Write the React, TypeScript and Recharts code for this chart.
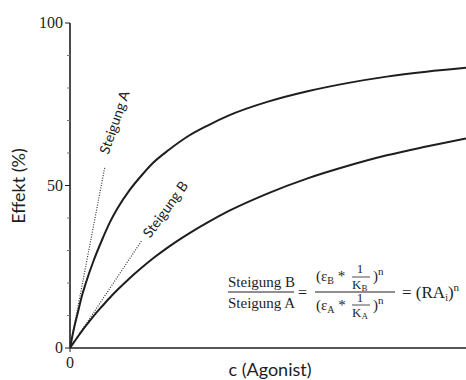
import React from 'react';
import { ComposedChart, Line, XAxis, YAxis, Customized } from 'recharts';

// concentration of agonist (arbitrary units) and effect in %
const concentrations = [0, 1, 2, 3, 4, 6, 8, 10, 12, 15, 18, 21, 25, 30, 35, 40, 50, 60, 70, 80, 90, 100];
const effectA = [0, 6, 11, 16, 20, 27, 33, 38.5, 43, 48.5, 53, 57, 61, 65.3, 68.6, 71.5, 75.8, 79, 81.5, 83.5, 85, 86.2];
const effectB = [0, 1.8, 3.5, 5.2, 6.8, 9.9, 12.7, 15.4, 17.9, 21.4, 24.6, 27.6, 31.2, 35.2, 38.8, 42.1, 47.6, 52.2, 56, 59.3, 62, 64.5];

// initial slopes (dotted)
const slopeAc = [0, 8.8];
const slopeAeffect = [0, 55.7];
const slopeBc = [0, 18.2];
const slopeBeffect = [0, 33.2];

const yTicks = [0, 10, 20, 30, 40, 50, 60, 70, 80, 90, 100];
const yLabelled = [0, 50, 100];
const xTicks = [0];

const curveData = concentrations.map((c, i) => ({ c, A: effectA[i], B: effectB[i] }));
const slopeAData = slopeAc.map((c, i) => ({ c, v: slopeAeffect[i] }));
const slopeBData = slopeBc.map((c, i) => ({ c, v: slopeBeffect[i] }));

const INK = '#1e1e1e';
const SANS = 'Lato, "Open Sans", sans-serif';
const SERIF = '"Liberation Serif", "DejaVu Serif", serif';

function YTick(props: any) {
  const { x, y, payload } = props;
  const major = yLabelled.includes(payload.value);
  return (
    <g>
      <line x1={x - (major ? 5 : 3)} x2={x} y1={y} y2={y} stroke={major ? INK : '#777'} strokeWidth={1} />
      {major && (
        <text x={x - 7} y={y + 5} textAnchor="end" fontFamily={SERIF} fontSize={16} fill={INK}>
          {payload.value}
        </text>
      )}
    </g>
  );
}

function XTick(props: any) {
  const { x, y, payload } = props;
  return (
    <g>
      <line x1={x} x2={x} y1={y} y2={y + 4} stroke={INK} strokeWidth={1} />
      <text x={x} y={y + 20} textAnchor="middle" fontFamily={SERIF} fontSize={16} fill={INK}>
        {payload.value}
      </text>
    </g>
  );
}

function Annotations() {
  const m = { fontFamily: SERIF, fill: INK };
  return (
    <g>
      <text x={18} y={186} transform="rotate(-90 18 186)" textAnchor="middle" dominantBaseline="central"
        fontFamily={SANS} fontSize={18} fill={INK}>Effekt (%)</text>
      <text x={270} y={376} textAnchor="middle" fontFamily={SANS} fontSize={18} fill={INK}>c (Agonist)</text>

      <text x={114} y={122} transform="rotate(-71 114 122)" textAnchor="middle" dominantBaseline="central"
        fontFamily={SANS} fontSize={14} fill={INK}>Steigung A</text>
      <text x={165} y={209} transform="rotate(-54 165 209)" textAnchor="middle" dominantBaseline="central"
        fontFamily={SANS} fontSize={14} fill={INK}>Steigung B</text>

      {/* left fraction */}
      <text x={228} y={287} {...m} fontSize={15}>Steigung B</text>
      <line x1={228} x2={294} y1={292} y2={292} stroke={INK} strokeWidth={1} />
      <text x={228} y={308} {...m} fontSize={15}>Steigung A</text>
      <text x={298} y={298} {...m} fontSize={16}>=</text>

      {/* right fraction numerator */}
      <text x={316} y={281} {...m} fontSize={15}>
        (ε<tspan fontSize={10} dy={3}>B</tspan><tspan dy={-3}> * </tspan>
      </text>
      <text x={360} y={273} {...m} fontSize={13} textAnchor="middle">1</text>
      <line x1={352} x2={370} y1={277} y2={277} stroke={INK} strokeWidth={0.8} />
      <text x={352} y={289} {...m} fontSize={13}>
        K<tspan fontSize={9} dy={2}>B</tspan>
      </text>
      <text x={373} y={281} {...m} fontSize={15}>
        )<tspan fontSize={11} dy={-6}>n</tspan>
      </text>
      <line x1={315} x2={395} y1={292} y2={292} stroke={INK} strokeWidth={1} />

      {/* right fraction denominator */}
      <text x={316} y={310} {...m} fontSize={15}>
        (ε<tspan fontSize={10} dy={3}>A</tspan><tspan dy={-3}> * </tspan>
      </text>
      <text x={360} y={302} {...m} fontSize={13} textAnchor="middle">1</text>
      <line x1={352} x2={370} y1={305} y2={305} stroke={INK} strokeWidth={0.8} />
      <text x={352} y={317} {...m} fontSize={13}>
        K<tspan fontSize={9} dy={2}>A</tspan>
      </text>
      <text x={373} y={310} {...m} fontSize={15}>
        )<tspan fontSize={11} dy={-6}>n</tspan>
      </text>

      <text x={402} y={298} {...m} fontSize={17}>
        = (RA<tspan fontSize={10} dy={3}>i</tspan><tspan dy={-3}>)</tspan><tspan fontSize={11} dy={-7}>n</tspan>
      </text>
    </g>
  );
}

export default function App() {
  return (
    <div style={{ position: 'absolute', left: 0, top: 0, width: 466, height: 380, background: '#fff' }}>
      <ComposedChart width={466} height={380} margin={{ top: 23, right: 0, bottom: 0, left: 0 }}>
        <XAxis
          dataKey="c"
          type="number"
          domain={[0, 100]}
          ticks={xTicks}
          height={32}
          tickSize={0}
          tickMargin={0}
          tick={<XTick />}
          axisLine={{ stroke: INK, strokeWidth: 1.6 }}
          allowDataOverflow
        />
        <YAxis
          type="number"
          domain={[0, 100]}
          ticks={yTicks}
          width={70}
          tickSize={0}
          tickMargin={0}
          tick={<YTick />}
          axisLine={{ stroke: INK, strokeWidth: 1.6 }}
          interval={0}
        />
        <Line data={slopeAData} dataKey="v" type="linear" stroke="#333" strokeWidth={1.2}
          strokeDasharray="1 1.5" dot={false} isAnimationActive={false} />
        <Line data={slopeBData} dataKey="v" type="linear" stroke="#333" strokeWidth={1.2}
          strokeDasharray="1 1.5" dot={false} isAnimationActive={false} />
        <Line data={curveData} dataKey="A" type="monotone" stroke={INK} strokeWidth={2}
          dot={false} isAnimationActive={false} />
        <Line data={curveData} dataKey="B" type="monotone" stroke={INK} strokeWidth={2}
          dot={false} isAnimationActive={false} />
        <Customized component={Annotations} />
      </ComposedChart>
    </div>
  );
}
